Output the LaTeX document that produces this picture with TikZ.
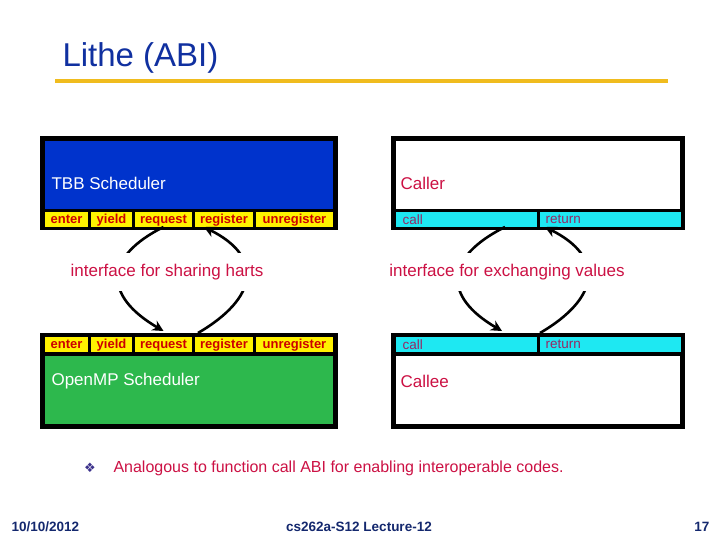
\documentclass[tikz,border=0pt]{standalone}
\usepackage{fontspec}
\setmainfont{Liberation Sans}
\newfontfamily\symfont{DejaVu Sans}
\usetikzlibrary{arrows.meta, positioning}

\definecolor{titleblue}{RGB}{16,48,160}
\definecolor{rulegold}{RGB}{240,188,30}
\definecolor{tbbblue}{RGB}{0,51,204}
\definecolor{ompgreen}{RGB}{45,184,77}
\definecolor{btnred}{RGB}{204,0,0}
\definecolor{crimson}{RGB}{204,17,68}
\definecolor{abicyan}{RGB}{30,232,242}
\definecolor{callplum}{RGB}{150,40,100}
\definecolor{footblue}{RGB}{20,40,110}
\definecolor{dotblue}{RGB}{60,50,140}

\begin{document}
\begin{tikzpicture}[x=1pt, y=-1pt, font=\fontsize{17}{20}\selectfont,
    frame/.style={fill=black, anchor=north west, inner sep=0pt, outer sep=0pt},
    panel/.style={anchor=north west, inner sep=0pt, outer sep=0pt, minimum height=68pt},
    btn/.style={fill=yellow, text=btnred, anchor=north west, inner sep=0pt, outer sep=0pt,
        minimum height=15pt, text height=9.5pt, text depth=2.5pt, font=\fontsize{13}{15}\selectfont\bfseries},
    slot/.style={fill=abicyan, anchor=north west, inner sep=0pt, outer sep=0pt,
        minimum width=141pt, minimum height=15pt},
    slottext/.style={text=callplum, font=\fontsize{13.5}{15}\selectfont},
    iface/.style={fill=white, text=crimson, inner xsep=3pt, inner ysep=11pt},
    hop/.style={line width=2.6pt, -{Stealth[length=11pt, width=11pt]}},
    foot/.style={text=footblue, font=\fontsize{13.5}{15}\selectfont\bfseries}]
    \useasboundingbox[fill=white] (0,0) rectangle (720,540);

    % title
    \node[anchor=base west, text=titleblue, font=\fontsize{33}{38}\selectfont] (title) at (59,67) {Lithe (ABI)};
    \node[fill=rulegold, anchor=west, inner sep=0pt, minimum width=613pt, minimum height=4pt] (rule) at (55,81) {};

    % TBB / OpenMP
    \node[frame, minimum width=298pt, minimum height=94pt] (tbb) at (40,136) {};
    \node[panel, fill=tbbblue, minimum width=288pt] (tbbfill) at (45,141) {};
    \node[anchor=west, text=white] (tbbname) at (48,183) {TBB Scheduler};
    \node[btn, minimum width=43pt] (en1) at (45,212) {enter};
    \node[btn, minimum width=41pt, right=3pt of en1] (yd1) {yield};
    \node[btn, minimum width=57pt, right=3pt of yd1] (rq1) {request};
    \node[btn, minimum width=58pt, right=3pt of rq1] (rg1) {register};
    \node[btn, minimum width=77pt, right=3pt of rg1] (ur1) {unregister};

    \node[frame, minimum width=298pt, minimum height=96pt] (omp) at (40,333) {};
    \node[btn, minimum width=43pt] (en2) at (45,337) {enter};
    \node[btn, minimum width=41pt, right=3pt of en2] (yd2) {yield};
    \node[btn, minimum width=57pt, right=3pt of yd2] (rq2) {request};
    \node[btn, minimum width=58pt, right=3pt of rq2] (rg2) {register};
    \node[btn, minimum width=77pt, right=3pt of rg2] (ur2) {unregister};
    \node[panel, fill=ompgreen, minimum width=288pt] (ompfill) at (45,356) {};
    \node[anchor=west, text=white] (ompname) at (48,381) {OpenMP Scheduler};

    % caller / callee
    \node[frame, minimum width=294pt, minimum height=94pt] (cr) at (391,136) {};
    \node[panel, fill=white, minimum width=284pt] (crfill) at (396,141) {};
    \node[anchor=west, text=crimson] (crname) at (397,183) {Caller};
    \node[slot, label={[slottext, anchor=west, xshift=3pt]west:call}] (call1) at (396,212) {};
    \node[slot, label={[slottext, anchor=west, xshift=2pt]west:return}, right=3pt of call1] (ret1) {};

    \node[frame, minimum width=294pt, minimum height=96pt] (ce) at (391,333) {};
    \node[slot, label={[slottext, anchor=west, xshift=3pt]west:call}] (call2) at (396,337) {};
    \node[slot, label={[slottext, anchor=west, xshift=2pt]west:return}, right=3pt of call2] (ret2) {};
    \node[panel, fill=white, minimum width=284pt] (cefill) at (396,356) {};
    \node[anchor=west, text=crimson] (cename) at (397,381) {Callee};

    % arrows
    \draw[hop] (rq1.south) .. controls +(-60,30) and +(-60,-35) .. ([yshift=6pt]rq2.north);
    \draw[hop] ([xshift=3pt, yshift=4pt]rg2.north west) .. controls +(60,-35) and +(60,30) .. ([xshift=9pt]rg1.south west);
    \draw[hop] ([xshift=-32pt]call1.south east) .. controls +(-60,30) and +(-60,-35) .. ([xshift=-35pt, yshift=6pt]call2.north east);
    \draw[hop] ([yshift=4pt]ret2.north west) .. controls +(60,-35) and +(60,30) .. ([xshift=5pt]ret1.south west);
    \node[iface] (share) at (167,272) {interface for sharing harts};
    \node[iface] (xchg) at (507,272) {interface for exchanging values};

    % bullet and footer
    \node[text=dotblue, font=\symfont\fontsize{13}{15}\selectfont] (dia) at (90,468) {❖};
    \node[anchor=west, text=crimson, font=\fontsize{16}{19}\selectfont] (note) at (110,468) {Analogous to function call ABI for enabling interoperable codes.};
    \node[foot, anchor=west] (date) at (8,527) {10/10/2012};
    \node[foot] (course) at (359,527) {cs262a-S12 Lecture-12};
    \node[foot, anchor=east] (page) at (713,527) {17};
\end{tikzpicture}
\end{document}
